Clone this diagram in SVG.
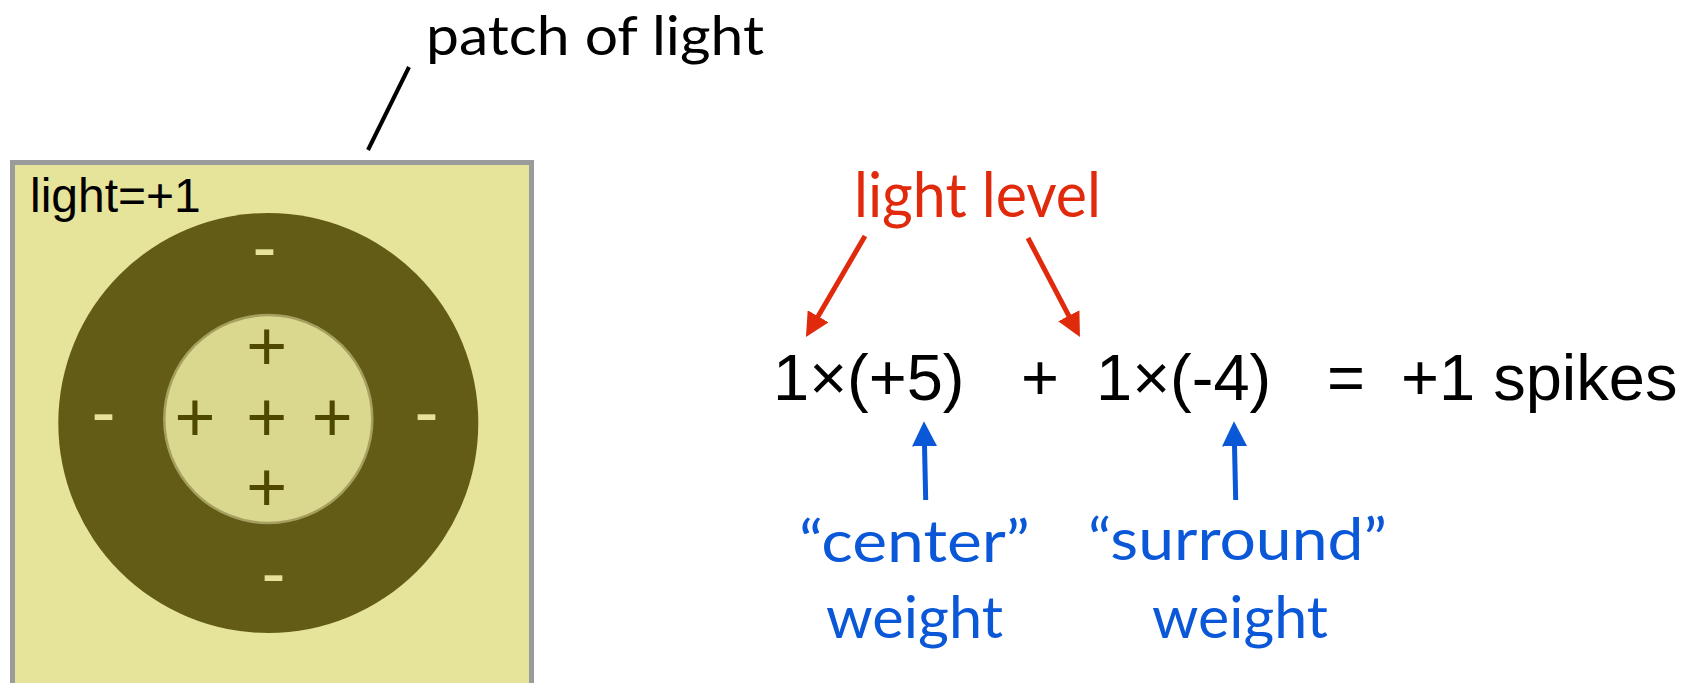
<svg xmlns="http://www.w3.org/2000/svg" width="1700" height="683" viewBox="0 0 1700 683">
  <style>
    .eq { font-family: "Liberation Sans", Arial, sans-serif; font-size: 65px; fill: #000; }
    .gill { font-family: Lato, "Open Sans", sans-serif; }
    .red { fill: #e12a0c; }
    .blue { fill: #0a58d8; }
    .plus { font-family: "Liberation Sans", Arial, sans-serif; font-size: 70px; fill: #4e4800; text-anchor: middle; }
    .minus { font-family: "Liberation Sans", Arial, sans-serif; font-size: 72px; fill: #e6e29b; text-anchor: middle; }
    .redline { stroke: #e12a0c; stroke-width: 5; fill: none; }
    .blueline { stroke: #0a58d8; stroke-width: 5; fill: none; }
  </style>
  <defs>
    <marker id="headRed" viewBox="0 0 24 24" refX="14" refY="12" markerWidth="24" markerHeight="24" markerUnits="userSpaceOnUse" orient="auto">
      <path d="M0,0 L24,12 L0,24 z" fill="#e12a0c"/>
    </marker>
    <marker id="headBlue" viewBox="0 0 24 24" refX="14" refY="12" markerWidth="25" markerHeight="25" markerUnits="userSpaceOnUse" orient="auto">
      <path d="M0,0 L24,12 L0,24 z" fill="#0a58d8"/>
    </marker>
  </defs>

  <g id="patch">
    <rect x="12.5" y="162.5" width="519" height="560" fill="#e6e39b" stroke="#9b9b9b" stroke-width="5"/>
    <text x="30" y="212" font-family="Liberation Sans, Arial, sans-serif" font-size="48" fill="#000">light=+1</text>
  </g>

  <g id="receptive-field">
    <circle cx="268.3" cy="423" r="210" fill="#635c17"/>
    <circle cx="268.3" cy="419" r="104" fill="#dad78f" stroke="#a6a060" stroke-width="2.5"/>
    <text class="plus" x="266.7" y="369.6">+</text>
    <text class="plus" x="195" y="440.6">+</text>
    <text class="plus" x="266.7" y="440.6">+</text>
    <text class="plus" x="332.3" y="440.6">+</text>
    <text class="plus" x="266.7" y="511.3">+</text>
    <text class="minus" x="264.5" y="271.1">-</text>
    <text class="minus" x="103.5" y="435.8">-</text>
    <text class="minus" x="426.5" y="435.8">-</text>
    <text class="minus" x="273.5" y="597.1">-</text>
  </g>

  <g id="patch-label">
    <text class="gill" x="426" y="55" font-size="54" fill="#000" textLength="338" lengthAdjust="spacingAndGlyphs">patch of light</text>
  </g>

  <g id="light-level">
    <text class="gill red" x="854" y="216.7" font-size="62" textLength="247" lengthAdjust="spacingAndGlyphs">light level</text>
  </g>

  <g id="equation">
    <text class="eq" x="773" y="400">1×(+5)</text>
    <text class="eq" x="1021" y="400">+</text>
    <text class="eq" x="1096" y="400">1×(-4)</text>
    <text class="eq" x="1327" y="400">=</text>
    <text class="eq" x="1401" y="400">+1 spikes</text>
  </g>

  <g id="center-weight">
    <text class="gill blue" x="799" y="561.7" font-size="59" textLength="231" lengthAdjust="spacingAndGlyphs">“center”</text>
    <text class="gill blue" x="826" y="638.3" font-size="59" textLength="177" lengthAdjust="spacingAndGlyphs">weight</text>
  </g>

  <g id="surround-weight">
    <text class="gill blue" x="1088" y="560" font-size="59" textLength="299" lengthAdjust="spacingAndGlyphs">“surround”</text>
    <text class="gill blue" x="1152" y="638" font-size="59" textLength="176" lengthAdjust="spacingAndGlyphs">weight</text>
  </g>

  <g id="connectors">
    <line x1="409" y1="67" x2="368" y2="150" stroke="#000" stroke-width="4"/>
    <line class="redline" x1="865" y1="236" x2="811" y2="328.4" marker-end="url(#headRed)"/>
    <line class="redline" x1="1028" y1="238" x2="1075.3" y2="328.1" marker-end="url(#headRed)"/>
    <line class="blueline" x1="925.7" y1="500" x2="924.2" y2="431.7" marker-end="url(#headBlue)"/>
    <line class="blueline" x1="1235.7" y1="500" x2="1234.2" y2="431.7" marker-end="url(#headBlue)"/>
  </g>
</svg>
